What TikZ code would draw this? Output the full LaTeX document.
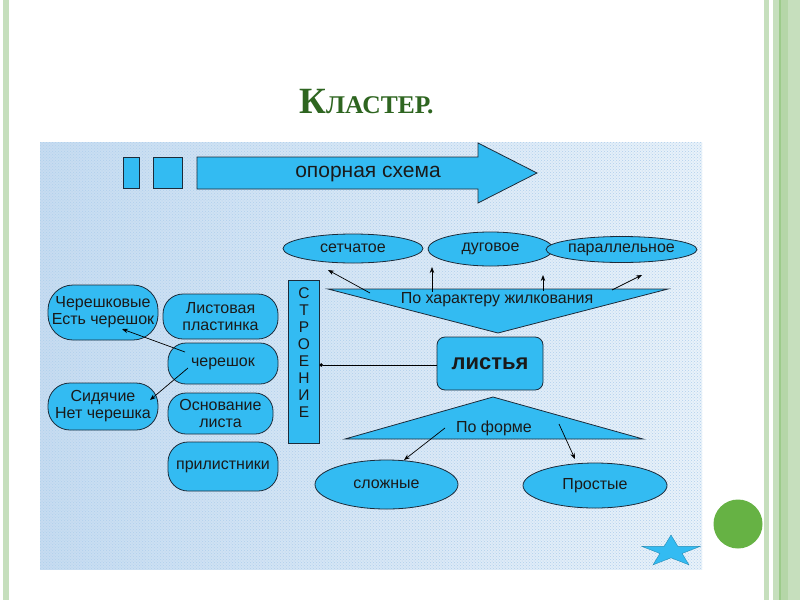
\documentclass[tikz,border=0pt]{standalone}
\usepackage{fontspec}
\setmainfont{Liberation Sans}
\newfontfamily\titlefont{Liberation Serif}
\usetikzlibrary{shapes.geometric,arrows.meta,patterns}
\definecolor{boxblue}{HTML}{33BBF2}
\definecolor{lineC}{HTML}{1C2B3A}
\definecolor{txt}{HTML}{1A1A1A}
\definecolor{titlegreen}{HTML}{2E6520}
\definecolor{bgL}{HTML}{C6DCF1}
\definecolor{bgR}{HTML}{E9F2FA}
\definecolor{bgDot}{HTML}{B0CFEC}
\definecolor{gLight}{HTML}{C6DFBD}
\definecolor{gMid}{HTML}{B5D6A8}
\definecolor{gDark}{HTML}{9CCB8A}
\definecolor{ballgreen}{HTML}{66B244}
\newcommand\diafont{\fontsize{16}{17}\selectfont\color{txt}}
\tikzset{
  blk/.style={draw=lineC, line width=0.8pt, fill=boxblue},
  rbox/.style={blk, rounded corners=#1, inner sep=0pt, align=center, font=\diafont},
  rbox/.default=18pt,
  ell/.style={blk, ellipse, inner sep=0pt, align=center, font=\diafont},
  lbl/.style={inner sep=0pt, align=center, font=\diafont},
  arr/.style={-{Stealth[length=6pt,width=4.5pt]}, line width=0.7pt, draw=black},
}
\begin{document}
\begin{tikzpicture}[x=1pt,y=-1pt]
\useasboundingbox (0,0) rectangle (800,600);
\fill[white] (0,0) rectangle (800,600);
% slide borders
\fill[gLight] (3,0) rectangle (9,600);
\fill[gLight] (764,0) rectangle (769,600);
\fill[gLight] (773,0) rectangle (779,600);
\fill[gDark] (779,0) rectangle (781,600);
\fill[gMid] (781,0) rectangle (788,600);
\fill[gLight] (788,0) rectangle (800,600);
% title
\node[anchor=base, inner sep=0pt, text=titlegreen] (title) at (366.5,113)
  {\titlefont\bfseries\fontsize{37}{37}\selectfont К\fontsize{25.5}{25.5}\selectfont ЛАСТЕР.};
% green ball
\fill[ballgreen] (738,524) circle (24.5);
% panel background
\shade[left color=bgL, right color=bgR] (40,142) rectangle (702,569);
\fill[pattern=crosshatch dots, pattern color=bgDot] (40,142) rectangle (702,569);
% star
\begin{scope}[shift={(671,551.5)}, yscale=0.54]
\filldraw[fill=boxblue, draw=boxblue!75!black, line width=0.4pt]
  (270:30.5) -- (306:11.7) -- (342:30.5) -- (18:11.7) -- (54:30.5) -- (90:11.7)
  -- (126:30.5) -- (162:11.7) -- (198:30.5) -- (234:11.7) -- cycle;
\end{scope}
% top arrow and small rects
\draw[blk] (123,157) rectangle (139,188);
\draw[blk] (153,157) rectangle (182,188);
\draw[blk] (197,157) -- (478,157) -- (478,143) -- (537,173) -- (478,203) -- (478,189) -- (197,189) -- cycle;
\node[lbl, font=\fontsize{21}{21}\selectfont\color{txt}] (ops) at (368,174) {опорная схема};
% top ellipses
\node[ell, minimum width=140, minimum height=29] (set) at (353,248.5) {сетчатое};
\node[ell, minimum width=125, minimum height=34] (dug) at (490.5,249) {дуговое};
\node[ell, minimum width=123, minimum height=26] (par) at (621.5,249.5) {параллельное};
% down triangle
\draw[blk] (328,289) -- (668,289) -- (498,333) -- cycle;
\node[lbl] (vein) at (497,300) {По характеру жилкования};
% arrows to top ellipses
\coordinate (a1s) at (370,293); \coordinate (a1e) at (328,270);
\coordinate (a2s) at (432,292); \coordinate (a2e) at (432,267);
\coordinate (a3s) at (543,291); \coordinate (a3e) at (543,275);
\coordinate (a4s) at (612,290); \coordinate (a4e) at (642,275);
\draw[arr] (a1s) -- (a1e);
\draw[arr] (a2s) -- (a2e);
\draw[arr] (a3s) -- (a3e);
\draw[arr] (a4s) -- (a4e);
% leaves
\node[rbox=8pt, minimum width=106, minimum height=53, font=\fontsize{22}{22}\selectfont\bfseries\color{txt}] (leaf) at (490,363.5) {листья};
% structure column
\node[blk, minimum width=31, minimum height=163, inner sep=0pt] (str) at (303.5,361.5) {};
\node[lbl, font=\fontsize{15.5}{17}\selectfont\color{txt}] (strtxt) at (304,353) {С\\Т\\Р\\О\\Е\\Н\\И\\Е};
\draw[-{Circle[length=3.5pt]}, line width=0.7pt] (leaf.west |- 0,365) -- (str.east |- 0,365);
% up triangle
\draw[blk] (493,397) -- (643,439) -- (345,439) -- cycle;
\node[lbl] (form) at (494,428.5) {По форме};
\node[ell, minimum width=143, minimum height=49] (slo) at (386.5,484.5) {сложные};
\node[ell, minimum width=144, minimum height=45] (pro) at (595,485.5) {Простые};
\coordinate (b1s) at (445,428); \coordinate (b1e) at (404,460);
\coordinate (b2s) at (559,424); \coordinate (b2e) at (575,459);
\draw[arr] (b1s) -- (b1e);
\draw[arr] (b2s) -- (b2e);
% left column
\node[rbox=20pt, minimum width=115, minimum height=45] (lp) at (220.5,316.5) {Листовая\\пластинка};
\node[rbox=18pt, minimum width=110, minimum height=41] (cher) at (223,363.5) {черешок};
\node[rbox=18pt, minimum width=105, minimum height=41] (osn) at (220.5,413.5) {Основание\\листа};
\node[rbox=20pt, minimum width=110, minimum height=49] (pril) at (223,466.5) {прилистники};
\node[rbox=25pt, minimum width=110, minimum height=55] (chk) at (103,312.5) {Черешковые\\Есть черешок};
\node[rbox=22pt, minimum width=110, minimum height=47] (sid) at (103,406.5) {Сидячие\\Нет черешка};
\coordinate (c1s) at (185,352); \coordinate (c1e) at (122,329);
\coordinate (c2s) at (188,368); \coordinate (c2e) at (150,400);
\draw[arr] (c1s) -- (c1e);
\draw[arr] (c2s) -- (c2e);
\end{tikzpicture}
\end{document}
